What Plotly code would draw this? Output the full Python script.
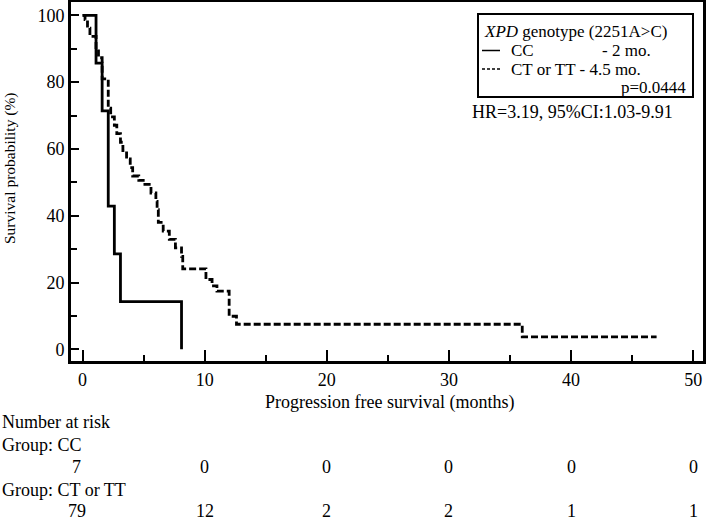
import plotly.graph_objects as go

# Kaplan-Meier curves (months, survival %)
cc_t = [0, 1.1, 1.6, 2.1, 2.6, 3.1, 8.1]
cc_s = [100, 85.7, 71.4, 42.9, 28.6, 14.3, 0]

ct_t = [0, 0.2, 0.4, 0.6, 1.1, 1.3, 1.6, 2.1, 2.3, 2.6, 2.8, 3.1, 3.3, 3.6, 3.9, 4.1,
        4.6, 5.1, 5.6, 6.0, 6.1, 6.2, 6.6, 7.1, 7.6, 8.1, 8.2, 10.1, 10.6, 11.0,
        12.0, 12.6, 36.0, 47.0]
ct_s = [100, 98.7, 96.2, 93.7, 89.9, 87.3, 81.0, 72.2, 69.6, 67.1, 64.6, 62.0, 59.5,
        57.0, 54.4, 51.9, 50.6, 49.4, 46.8, 44.3, 41.8, 38.0, 35.4, 32.9, 30.4, 27.8,
        24.1, 20.9, 19.0, 17.4, 9.9, 7.5, 3.7, 3.7]

# number at risk table
risk_times = [0, 10, 20, 30, 40, 50]
risk_cc = [7, 0, 0, 0, 0, 0]
risk_ct = [79, 12, 2, 2, 1, 1]

FONT = "Liberation Serif"
W, H = 708, 521
L, R, T, B = 71, 703, 2, 361  # plot area in pixels


def px(x):
    return (x - L) / (R - L)


def py(y):
    return 1 - (y - T) / (B - T)


fig = go.Figure()
fig.add_trace(go.Scatter(x=cc_t, y=cc_s, mode="lines", line_shape="hv",
                         line=dict(color="black", width=2.8), showlegend=False))
fig.add_trace(go.Scatter(x=ct_t, y=ct_s, mode="lines", line_shape="hv",
                         line=dict(color="black", width=2.8, dash="7px,3px"), showlegend=False))

ann = []
def txt(s, x, y, size=18, xanchor="left", xref="paper", **kw):
    ann.append(dict(text=s, x=x, y=py(y), xref=xref, yref="paper", xanchor=xanchor,
                    yanchor="middle", showarrow=False, font=dict(family=FONT, size=size, color="black"), **kw))

# legend box
txt("<i>XPD</i> genotype (2251A>C)", px(482), 32, size=17)
txt("CC", px(509), 50.5, size=17)
txt("- 2 mo.", px(600), 50.5, size=17)
txt("CT or TT - 4.5 mo.", px(509), 69, size=17)
txt("p=0.0444", px(688), 87.5, size=17, xanchor="right")
txt("HR=3.19, 95%CI:1.03-9.91", px(470), 112, size=18)

# axis titles
txt("Progression free survival (months)", px(389), 402, xanchor="center")
ann.append(dict(text="Survival probability (%)", x=px(10), y=py(168), xref="paper", yref="paper",
                textangle=-90, showarrow=False, xanchor="center", yanchor="middle",
                font=dict(family=FONT, size=15.5, color="black")))

# number at risk
txt("Number at risk", px(0), 422)
txt("Group: CC", px(0), 445)
txt("Group: CT or TT", px(0), 490)
for i, (t, a, b) in enumerate(zip(risk_times, risk_cc, risk_ct)):
    shift = -6 if i == 0 else 0
    txt(str(a), t, 467, xanchor="center", xref="x", xshift=shift)
    txt(str(b), t, 511, xanchor="center", xref="x", xshift=shift)

shapes = [
    dict(type="rect", xref="paper", yref="paper", x0=px(478), x1=px(693), y0=py(14), y1=py(97),
         line=dict(color="black", width=2), fillcolor="white", layer="below"),
    dict(type="line", xref="paper", yref="paper", x0=px(482), x1=px(500), y0=py(50.5), y1=py(50.5),
         line=dict(color="black", width=1.5)),
    dict(type="line", xref="paper", yref="paper", x0=px(482), x1=px(500), y0=py(69), y1=py(69),
         line=dict(color="black", width=1.5, dash="3px,2px")),
]

fig.update_layout(
    width=W, height=H,
    margin=dict(l=L, r=W - R, t=T, b=H - B, autoexpand=False),
    paper_bgcolor="white", plot_bgcolor="white",
    font=dict(family=FONT, size=18, color="black"),
    annotations=ann, shapes=shapes,
)
fig.update_xaxes(range=[-0.95, 50.8], tickmode="array", tickvals=risk_times, automargin=False,
                 ticks="inside", ticklen=11, tickwidth=2, tickcolor="black", ticklabelstandoff=0,
                 minor=dict(dtick=5, tick0=0, ticks="inside", ticklen=6, tickwidth=2, tickcolor="black"),
                 showline=True, linewidth=3, linecolor="black", mirror=True,
                 showgrid=False, zeroline=False, tickfont=dict(family=FONT, size=18))
fig.update_yaxes(range=[-3.5, 104], tickmode="array", tickvals=[0, 20, 40, 60, 80, 100], automargin=False,
                 ticks="inside", ticklen=8, tickwidth=2, tickcolor="black",
                 minor=dict(dtick=10, tick0=0, ticks="inside", ticklen=6, tickwidth=2, tickcolor="black"),
                 showline=True, linewidth=3, linecolor="black", mirror=True,
                 showgrid=False, zeroline=False, tickfont=dict(family=FONT, size=18))

# page has a default 8px body margin; drop it so the figure sits at the corner
fig.write_html("out.html", config={"displayModeBar": False},
               post_script="document.body.style.margin='0';document.body.style.overflow='hidden';")
